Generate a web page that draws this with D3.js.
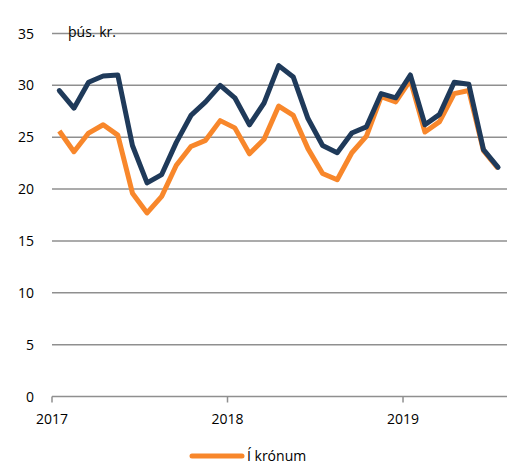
<!DOCTYPE html>
<html>
<head>
<meta charset="utf-8">
<script src="https://cdn.jsdelivr.net/npm/d3@7"></script>
<style>
  body { margin: 0; background: #fff; }
  text { font-family: "Open Sans", "Liberation Sans", sans-serif; fill: #000; }
</style>
</head>
<body>
<svg id="chart" width="507" height="465"></svg>
<script>
// months Jan 2017 .. Jul 2019
var months = d3.range(31).map(function (i) { return new Date(2017, i, 1); });
var yearLabels = ['2017', '2018', '2019'];
var yTicks = [0, 5, 10, 15, 20, 25, 30, 35];

// föstu verðlagi (navy) og í krónum (orange), þús. kr.
var realValues = [29.5, 27.8, 30.3, 30.9, 31.0, 24.2, 20.6, 21.4, 24.5, 27.1, 28.4, 30.0,
                  28.8, 26.2, 28.3, 31.9, 30.8, 26.8, 24.2, 23.5, 25.4, 26.0, 29.2, 28.8,
                  31.0, 26.2, 27.2, 30.3, 30.1, 23.8, 22.1];
var nominalValues = [25.6, 23.6, 25.4, 26.2, 25.2, 19.6, 17.7, 19.3, 22.3, 24.1, 24.7, 26.6,
                     25.9, 23.4, 24.8, 28.0, 27.1, 23.9, 21.5, 20.9, 23.5, 25.1, 28.9, 28.4,
                     30.5, 25.5, 26.5, 29.2, 29.5, 23.7, 22.0];

var svg = d3.select('#chart');
var plotL = 52, plotR = 505.4, plotT = 33.5, plotB = 396.5;

var x = d3.scaleBand()
    .domain(d3.range(months.length))
    .range([plotL, plotR]);

var y = d3.scaleLinear()
    .domain([0, 35])
    .range([plotB, plotT]);

// gridlines
svg.append('g')
    .selectAll('line')
    .data(yTicks.filter(function (d) { return d > 0; }))
    .enter()
    .append('line')
    .attr('x1', plotL)
    .attr('x2', 507)
    .attr('y1', function (d) { return y(d); })
    .attr('y2', function (d) { return y(d); })
    .attr('stroke', '#8f8f8f')
    .attr('stroke-width', 1.5);

// y labels
svg.append('g')
    .selectAll('text')
    .data(yTicks)
    .enter()
    .append('text')
    .attr('x', 34)
    .attr('y', function (d) { return y(d) + 5; })
    .attr('text-anchor', 'end')
    .attr('font-size', 14)
    .text(function (d) { return d; });

// x axis
svg.append('line')
    .attr('x1', plotL).attr('x2', 507)
    .attr('y1', plotB).attr('y2', plotB)
    .attr('stroke', '#8f8f8f')
    .attr('stroke-width', 1.5);

var yearStarts = yearLabels.map(function (d, i) { return i * 12; });

svg.append('g')
    .selectAll('line')
    .data(yearStarts)
    .enter()
    .append('line')
    .attr('x1', function (d) { return x(d); })
    .attr('x2', function (d) { return x(d); })
    .attr('y1', plotB)
    .attr('y2', plotB + 6)
    .attr('stroke', '#8f8f8f')
    .attr('stroke-width', 1.5);

svg.append('g')
    .selectAll('text')
    .data(yearStarts)
    .enter()
    .append('text')
    .attr('x', function (d) { return x(d); })
    .attr('y', 424)
    .attr('text-anchor', 'middle')
    .attr('font-size', 14)
    .text(function (d, i) { return yearLabels[i]; });

svg.append('text')
    .attr('x', 68)
    .attr('y', 37)
    .attr('font-size', 14)
    .text('þús. kr.');

var line = d3.line()
    .x(function (d, i) { return x(i) + x.bandwidth() / 2; })
    .y(function (d) { return y(d); });

svg.append('path')
    .datum(nominalValues)
    .attr('d', line)
    .attr('fill', 'none')
    .attr('stroke', '#f8872b')
    .attr('stroke-width', 5)
    .attr('stroke-linejoin', 'round');

svg.append('path')
    .datum(realValues)
    .attr('d', line)
    .attr('fill', 'none')
    .attr('stroke', '#1f3a5a')
    .attr('stroke-width', 5)
    .attr('stroke-linejoin', 'round')
    .attr('stroke-linecap', 'round');

// legend
svg.append('line')
    .attr('x1', 192).attr('x2', 242)
    .attr('y1', 456).attr('y2', 456)
    .attr('stroke', '#f8872b')
    .attr('stroke-width', 5)
    .attr('stroke-linecap', 'round');

svg.append('text')
    .attr('x', 247)
    .attr('y', 461)
    .attr('font-size', 14)
    .text('Í krónum');
</script>
</body>
</html>
